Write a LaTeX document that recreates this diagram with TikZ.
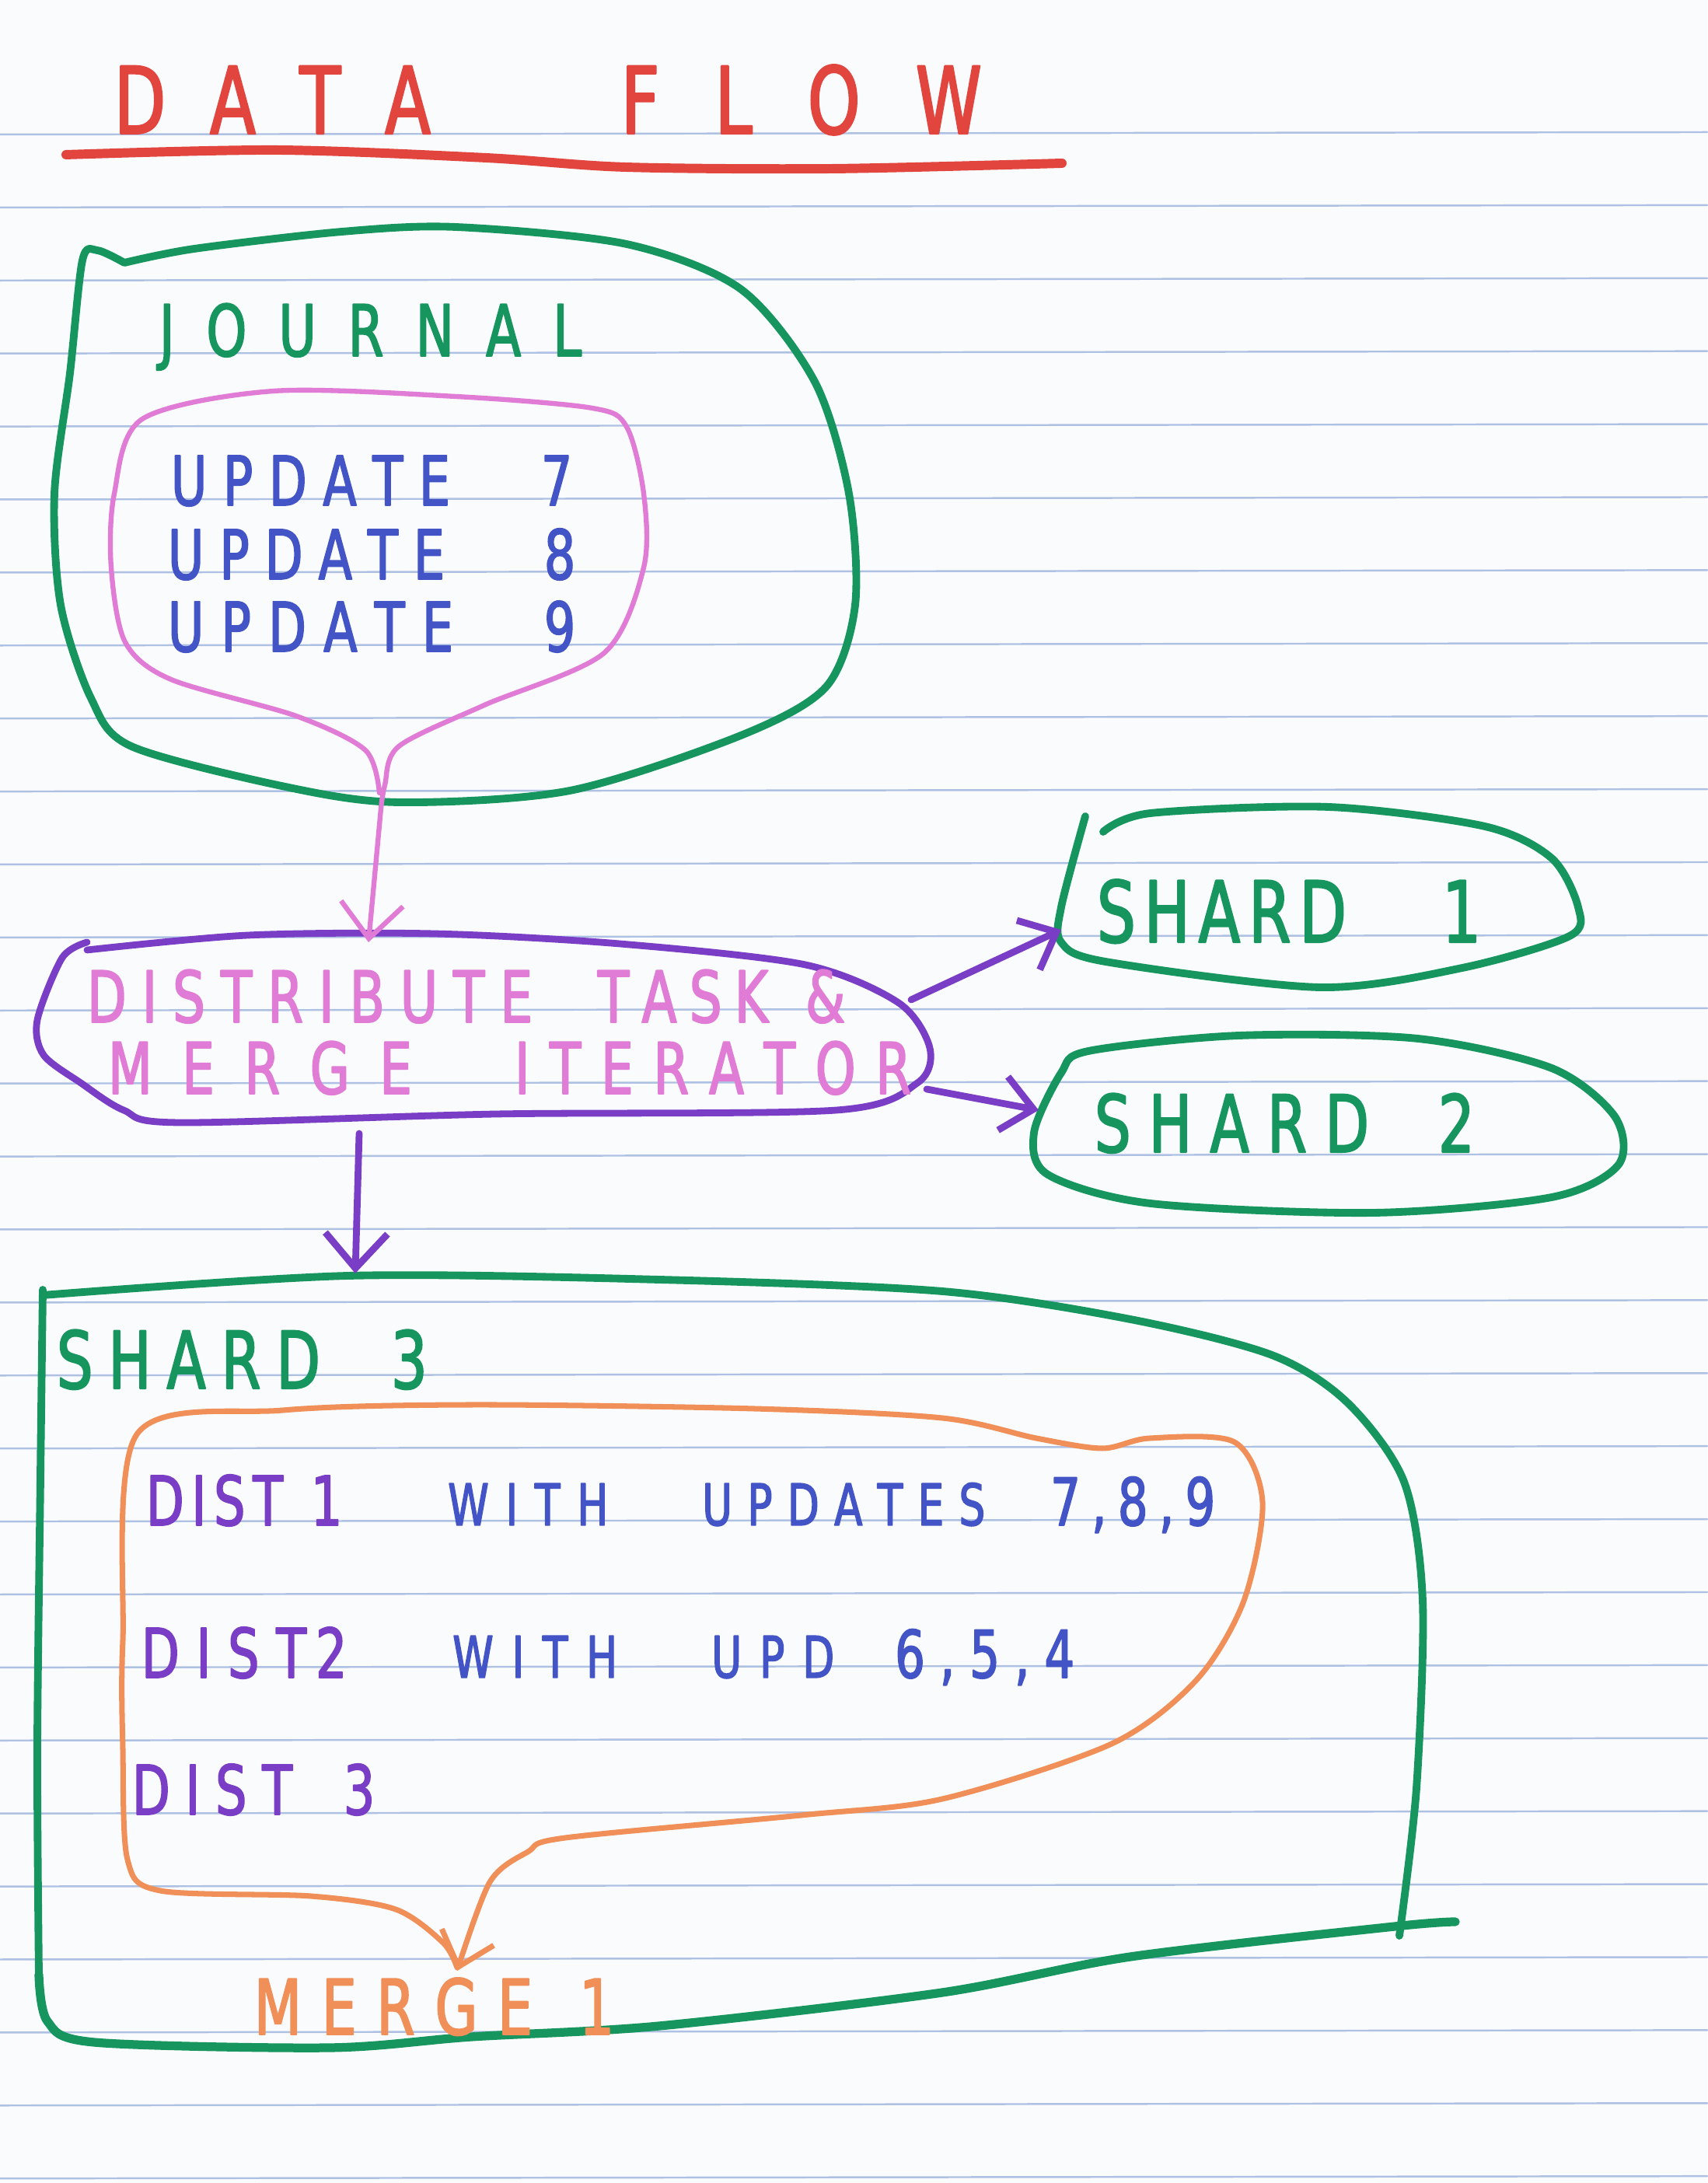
\documentclass[tikz,border=0pt]{standalone}
\usepackage{fontspec}
\setmainfont{DejaVu Sans}[FakeStretch=0.72, FakeBold=2]
\usetikzlibrary{arrows.meta}
\definecolor{paper}{HTML}{FAFBFD}
\definecolor{ruleBlue}{HTML}{AFC1E3}
\definecolor{penRed}{HTML}{E2443E}
\definecolor{penGreen}{HTML}{16965E}
\definecolor{penPink}{HTML}{E07BD6}
\definecolor{penPurple}{HTML}{7A3EC6}
\definecolor{penBlue}{HTML}{4254C6}
\definecolor{penOrange}{HTML}{F08F58}

% Spread the letters of one word over a given width.
\newcommand\hw[2]{\makebox[#1][s]{\hwnext#2\relax}}
\def\hwnext#1#2{#1\ifx\relax#2\else\hfil\expandafter\hwnext\fi#2}

\begin{document}
\begin{tikzpicture}[
    line cap=round,
    line join=round,
    hand/.style={anchor=base west, inner sep=0pt, outer sep=0pt},
    ruleline/.style={draw=ruleBlue, line width=0.7pt},
    greenPen/.style={draw=penGreen, line width=2.8pt},
    pinkPen/.style={draw=penPink, line width=1.8pt},
    purplePen/.style={draw=penPurple, line width=2.5pt},
    orangePen/.style={draw=penOrange, line width=2.0pt},
    redPen/.style={draw=penRed, line width=3.4pt},
    tipBarb/.style={-{Straight Barb[length=4.5mm, width=8mm]}},
    smallBarb/.style={-{Straight Barb[length=4mm, width=7mm]}}
]

% Paper and ruled lines.
\fill[paper] (0,0) rectangle (21.96,28.08);
\useasboundingbox (0,0) rectangle (21.96,28.08);
\foreach \k in {0,...,28}
    \draw[ruleline] (0,{26.35-0.939*\k}) -- (21.96,{26.38-0.939*\k});

% Title.
\node[hand, text=penRed, font=\fontsize{34}{40}\selectfont] (title) at (1.47,26.36)
    {\hw{4.07cm}{DATA}\hspace{2.45cm}\hw{4.64cm}{FLOW}};
\draw[redPen] plot[smooth] coordinates {(0.85,26.09) (3.57,26.15) (6.25,26.05) (8.04,25.93) (10.71,25.91) (13.66,25.98)};

% Journal blob with its updates.
\draw[greenPen] plot[smooth] coordinates {(1.60,24.70) (1.25,24.86) (1.06,24.73) (0.90,23.28) (0.70,21.73) (0.78,20.30) (1.17,19.10) (1.69,18.48) (3.67,17.96) (5.13,17.76) (7.33,17.91) (9.53,18.62) (10.63,19.25) (11.00,20.30) (10.92,21.73) (10.48,23.17) (9.53,24.36) (8.06,24.94) (5.86,25.16) (4.40,25.10) (2.50,24.88) (1.60,24.70)};
\node[hand, text=penGreen, font=\fontsize{26}{30}\selectfont] (journal) at (2.05,23.50) {\hw{5.43cm}{JOURNAL}};

\draw[pinkPen] plot[smooth] coordinates {(4.88,17.88) (4.70,18.43) (3.81,18.87) (2.20,19.34) (1.61,19.82) (1.43,20.78) (1.47,21.73) (1.83,22.69) (3.52,23.05) (5.86,22.98) (7.62,22.83) (8.06,22.59) (8.28,21.73) (8.28,20.78) (7.77,19.68) (6.23,19.01) (5.13,18.48) (4.95,17.98) (4.90,17.68)};
\coordinate (journalNeck) at (4.90,17.68);

\node[hand, text=penBlue, font=\fontsize{25}{30}\selectfont] (updSeven) at (2.20,21.58) {\hw{3.59cm}{UPDATE}\hspace{1.17cm}7};
\node[hand, text=penBlue, font=\fontsize{25}{30}\selectfont] (updEight) at (2.16,20.63) {\hw{3.56cm}{UPDATE}\hspace{1.28cm}8};
\node[hand, text=penBlue, font=\fontsize{25}{30}\selectfont] (updNine) at (2.16,19.70) {\hw{3.67cm}{UPDATE}\hspace{1.17cm}9};

% Distribute task.
\draw[purplePen] plot[smooth] coordinates {(1.12,15.86) (3.19,16.05) (5.58,16.07) (7.97,15.94) (10.36,15.67) (11.56,15.18) (11.96,14.60) (11.80,14.15) (10.76,13.80) (6.38,13.75) (2.31,13.64) (1.59,13.80) (1.04,14.15) (0.56,14.51) (0.48,14.96) (0.80,15.76) (1.12,15.96)};
\node[hand, text=penPink, font=\fontsize{26}{30}\selectfont] (distLineOne) at (1.12,14.93)
    {\hw{5.73cm}{DISTRIBUTE}\hspace{0.84cm}\hw{2.19cm}{TASK}\hspace{0.48cm}\&};
\node[hand, text=penPink, font=\fontsize{26}{30}\selectfont] (distLineTwo) at (1.39,14.01)
    {\hw{3.91cm}{MERGE}\hspace{1.32cm}\hw{5.10cm}{ITERATOR}};
\coordinate (distTop) at (4.74,15.96);
\coordinate (distRightUp) at (11.72,15.22);
\coordinate (distRightDown) at (11.92,14.07);
\coordinate (distBottom) at (4.62,13.50);

% Shards 1 and 2.
\draw[greenPen] plot[smooth] coordinates {(13.96,17.58) (13.65,16.41) (13.65,15.96) (14.22,15.71) (16.98,15.38) (18.81,15.63) (20.19,16.04) (20.30,16.41) (19.96,17.04) (19.10,17.45) (17.09,17.70) (14.80,17.62) (14.19,17.38)};
\coordinate (shardOneIn) at (13.65,16.12);
\node[hand, text=penGreen, font=\fontsize{31}{36}\selectfont] (shardOne) at (14.11,15.96) {\hw{3.21cm}{SHARD}\hspace{1.23cm}1};

\draw[greenPen] plot[smooth cycle] coordinates {(14.00,14.56) (13.65,14.28) (13.30,13.51) (13.48,12.97) (14.80,12.60) (17.67,12.48) (19.96,12.68) (20.82,13.10) (20.77,13.72) (19.96,14.34) (18.24,14.72) (15.94,14.76)};
\coordinate (shardTwoIn) at (13.36,13.80);
\node[hand, text=penGreen, font=\fontsize{29}{34}\selectfont] (shardTwo) at (14.08,13.26) {\hw{3.53cm}{SHARD}\hspace{0.89cm}2};

% Shard 3 with its merge.
\draw[greenPen] plot[smooth] coordinates {(0.55,11.42) (4.48,11.67) (8.48,11.62) (12.12,11.47) (14.54,11.11) (16.36,10.65) (17.33,10.04) (18.06,9.02) (18.30,7.49) (18.22,5.08) (18.00,3.18)};
\draw[greenPen, line width=3.2pt] plot[smooth] coordinates {(18.72,3.36) (17.94,3.30) (14.54,2.91) (12.12,2.45) (8.48,2.02) (6.06,1.88) (4.24,1.74) (1.21,1.81) (0.61,2.08) (0.50,2.68)};
\draw[greenPen] plot[smooth] coordinates {(0.50,2.68) (0.48,5.58) (0.52,9.08) (0.55,11.49)};
\coordinate (shardThreeTop) at (4.57,11.70);
\node[hand, text=penGreen, font=\fontsize{29}{34}\selectfont] (shardThree) at (0.73,10.22) {\hw{3.39cm}{SHARD}\hspace{0.91cm}3};

\draw[orangePen, smallBarb] plot[smooth] coordinates {(5.88,2.77) (5.70,3.09) (5.09,3.52) (4.00,3.69) (2.06,3.76) (1.64,4.16) (1.58,5.58) (1.58,6.98) (1.76,9.63) (3.64,9.94) (6.06,10.01) (9.70,9.96) (12.12,9.84) (13.33,9.58) (14.18,9.45) (14.79,9.58) (15.88,9.53) (16.24,8.76) (16.00,7.49) (15.39,6.47) (14.30,5.65) (12.12,4.94) (10.30,4.73) (7.27,4.44) (6.79,4.26) (6.30,3.87) (5.88,2.73)};

\node[hand, text=penBlue, font=\fontsize{21}{26}\selectfont] (distOne) at (1.88,8.46)
    {{\color{penPurple}\fontsize{25}{30}\selectfont\hw{1.76cm}{DIST}\hspace{0.36cm}1}\hspace{1.36cm}\hw{2.06cm}{WITH}\hspace{1.21cm}\hw{3.64cm}{UPDATES}\hspace{0.84cm}{\fontsize{24}{28}\selectfont\hw{2.12cm}{7,8,9}}};
\node[hand, text=penBlue, font=\fontsize{21}{26}\selectfont] (distTwo) at (1.82,6.50)
    {{\color{penPurple}\fontsize{25}{30}\selectfont\hw{2.12cm}{DIST}\hspace{0.12cm}2}\hspace{1.36cm}\hw{2.12cm}{WITH}\hspace{1.21cm}\hw{1.58cm}{UPD}\hspace{0.78cm}{\fontsize{24}{28}\selectfont\hw{2.31cm}{6,5,4}}};
\node[hand, text=penPurple, font=\fontsize{25}{30}\selectfont] (distThree) at (1.70,4.74) {\hw{2.06cm}{DIST}\hspace{0.66cm}3};

\node[hand, text=penOrange, font=\fontsize{28}{32}\selectfont] (mergeOne) at (3.27,1.91) {\hw{3.58cm}{MERGE}\hspace{0.60cm}1};

% Connectors.
\draw[pinkPen, tipBarb] (journalNeck) -- (distTop);
\draw[purplePen, smallBarb] (distRightUp) -- (shardOneIn);
\draw[purplePen, smallBarb] (distRightDown) -- (shardTwoIn);
\draw[purplePen, tipBarb] (distBottom) -- (shardThreeTop);

\end{tikzpicture}
\end{document}
